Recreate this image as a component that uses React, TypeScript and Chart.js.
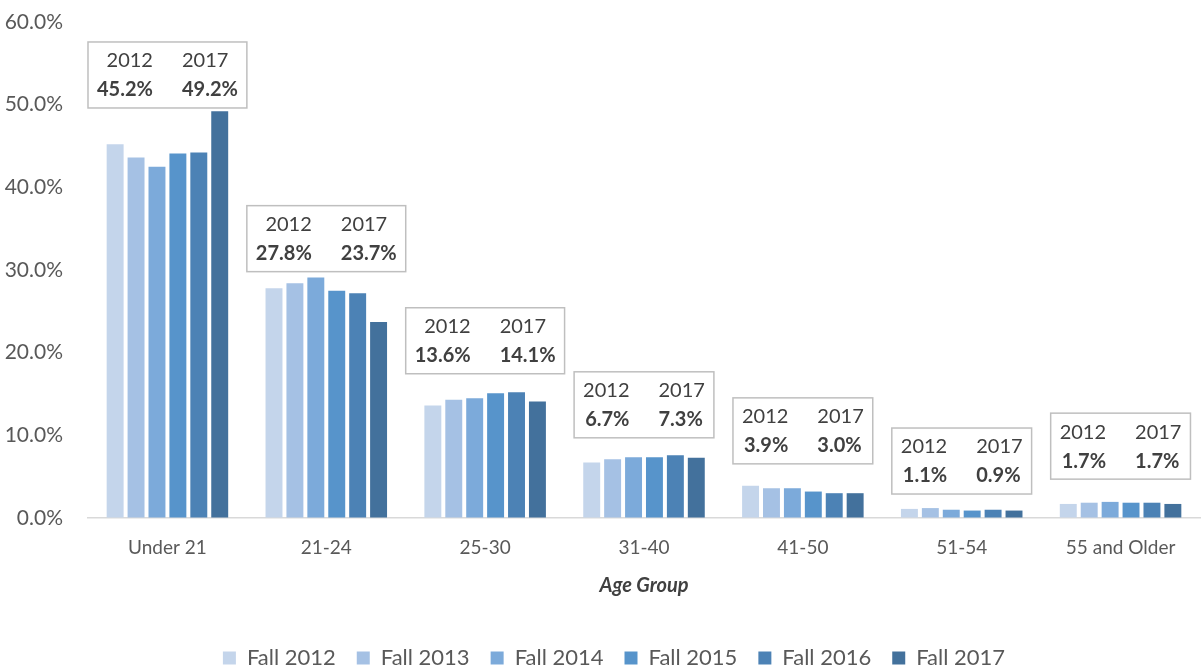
import React, { useEffect, useRef } from "react";
import { Chart, registerables } from "chart.js";

Chart.register(...registerables);

const categories = ["Under 21", "21-24", "25-30", "31-40", "41-50", "51-54", "55 and Older"];
const seriesNames = ["Fall 2012", "Fall 2013", "Fall 2014", "Fall 2015", "Fall 2016", "Fall 2017"];
const fall2012 = [45.2, 27.8, 13.6, 6.7, 3.9, 1.1, 1.7];
const fall2013 = [43.6, 28.4, 14.3, 7.1, 3.6, 1.2, 1.85];
const fall2014 = [42.5, 29.1, 14.5, 7.35, 3.6, 1.0, 1.95];
const fall2015 = [44.1, 27.5, 15.1, 7.35, 3.2, 0.9, 1.85];
const fall2016 = [44.2, 27.2, 15.2, 7.6, 3.0, 1.0, 1.85];
const fall2017 = [49.2, 23.7, 14.1, 7.3, 3.0, 0.9, 1.7];
const seriesColors = ["#C4D5EB", "#A5C1E4", "#7CAADA", "#5794CB", "#4C82B5", "#43719C"];
const yTicks = [0, 10, 20, 30, 40, 50, 60];
// bottom of each comparison call-out box, in axis units (%)
const calloutBase = [49.6, 29.8, 17.45, 9.7, 6.55, 2.9, 4.7];
const calloutYears = ["2012", "2017"];

const FONT = "Lato, 'Open Sans', sans-serif";

const calloutPlugin = {
  id: "callouts",
  afterDatasetsDraw(chart: any) {
    const { ctx, scales } = chart;
    const xs = scales.x;
    const ys = scales.y;
    const gap = 29;
    const pad = 9;
    const h = 66;
    ctx.save();
    categories.forEach((_, i) => {
      const cx = xs.getPixelForValue(i);
      const bottom = ys.getPixelForValue(calloutBase[i]);
      const top = bottom - h;
      const v1 = fall2012[i].toFixed(1) + "%";
      const v2 = fall2017[i].toFixed(1) + "%";
      ctx.font = `20px ${FONT}`;
      const wy1 = ctx.measureText(calloutYears[0]).width;
      const wy2 = ctx.measureText(calloutYears[1]).width;
      ctx.font = `bold 20px ${FONT}`;
      const wv1 = ctx.measureText(v1).width;
      const wv2 = ctx.measureText(v2).width;
      const leftW = Math.max(wy1, wv1);
      const rightW = Math.max(wy2, wv2);
      const x0 = cx - gap / 2 - leftW - pad;
      const x1 = cx + gap / 2 + rightW + pad;
      ctx.fillStyle = "#ffffff";
      ctx.fillRect(x0, top, x1 - x0, h);
      ctx.strokeStyle = "#BFBFBF";
      ctx.lineWidth = 1.5;
      ctx.strokeRect(x0, top, x1 - x0, h);
      ctx.fillStyle = "#404040";
      ctx.textBaseline = "middle";
      ctx.font = `20px ${FONT}`;
      ctx.textAlign = "right";
      ctx.fillText(calloutYears[0], cx - gap / 2, top + 19);
      ctx.textAlign = "left";
      ctx.fillText(calloutYears[1], cx + gap / 2, top + 19);
      ctx.font = `bold 20px ${FONT}`;
      ctx.textAlign = "right";
      ctx.fillText(v1, cx - gap / 2, top + 48);
      ctx.textAlign = "left";
      ctx.fillText(v2, cx + gap / 2, top + 48);
    });
    ctx.restore();
  },
};

// nudge the legend row slightly right, as in the original layout
const legendShiftPlugin = {
  id: "legendShift",
  afterLayout(chart: any) {
    if (chart.legend) {
      chart.legend.left += 14;
      chart.legend.right += 14;
    }
  },
};

export default function App() {
  const ref = useRef<HTMLCanvasElement>(null);
  useEffect(() => {
    document.body.style.margin = "0";
    const seriesData = [fall2012, fall2013, fall2014, fall2015, fall2016, fall2017];
    const chart = new Chart(ref.current as HTMLCanvasElement, {
      type: "bar",
      data: {
        labels: categories,
        datasets: seriesNames.map((name, k) => ({
          label: name,
          data: seriesData[k],
          backgroundColor: seriesColors[k],
          borderWidth: 0,
          categoryPercentage: 0.79,
          barPercentage: 0.81,
        })),
      },
      options: {
        animation: false,
        responsive: true,
        maintainAspectRatio: false,
        layout: { padding: { top: 22, right: 2, left: 0, bottom: -10 } },
        plugins: {
          tooltip: { enabled: false },
          legend: {
            position: "bottom",
            labels: {
              boxWidth: 13,
              boxHeight: 13,
              padding: 21,
              color: "#595959",
              font: { family: FONT, size: 22 },
            },
          },
        },
        scales: {
          x: {
            grid: { display: false, drawTicks: false },
            border: { display: true, color: "#D9D9D9", width: 1.5 },
            ticks: { color: "#595959", font: { family: FONT, size: 19 }, padding: 18 },
            title: {
              display: true,
              text: "Age Group",
              color: "#404040",
              font: { family: FONT, size: 20, weight: "bold", style: "italic" },
              padding: { top: 0, bottom: 28 },
            },
            afterFit: (s: any) => {
              s.height = 108;
            },
          },
          y: {
            min: 0,
            max: 60,
            afterBuildTicks: (s: any) => {
              s.ticks = yTicks.map((v) => ({ value: v }));
            },
            grid: {
              display: true,
              drawOnChartArea: false,
              drawTicks: true,
              tickLength: 25,
              color: "rgba(0,0,0,0)",
              tickColor: "rgba(0,0,0,0)",
            },
            border: { display: false },
            ticks: {
              color: "#595959",
              font: { family: FONT, size: 21 },
              padding: 0,
              callback: (v: any) => Number(v).toFixed(1) + "%",
            },
            afterFit: (s: any) => {
              s.width = 88;
            },
          },
        },
      },
      plugins: [calloutPlugin, legendShiftPlugin],
    });
    return () => chart.destroy();
  }, []);
  return (
    <div style={{ position: "absolute", left: 0, top: 0, width: 1202, height: 669 }}>
      <canvas ref={ref} />
    </div>
  );
}
